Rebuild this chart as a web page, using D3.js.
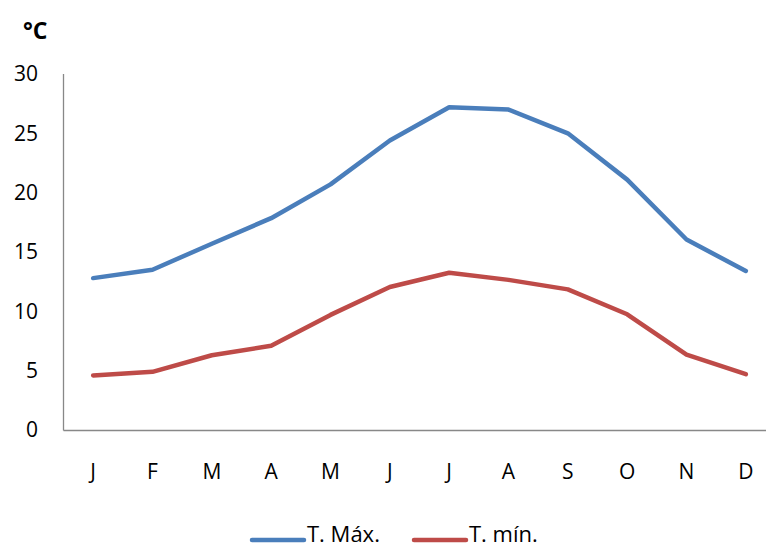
<!DOCTYPE html>
<html><head><meta charset="utf-8">
<script src="https://cdn.jsdelivr.net/npm/d3@7"></script>
<style>body{margin:0;background:#fff}svg{display:block}text{font-family:"Open Sans","Noto Sans",sans-serif;fill:#000}</style>
</head><body>
<svg id="c" width="766" height="549"></svg>
<script>
const months = ["J","F","M","A","M","J","J","A","S","O","N","D"];
const tMax = [12.8, 13.5, 15.7, 17.85, 20.7, 24.4, 27.2, 27.0, 25.0, 21.1, 16.05, 13.4];
const tMin = [4.6, 4.9, 6.3, 7.1, 9.7, 12.05, 13.25, 12.65, 11.85, 9.75, 6.35, 4.7];
const yTicks = [0,5,10,15,20,25,30];
const seriesNames = ["T. Máx.","T. mín."];
const colors = ["#4a7ebb","#be4b48"];

const svg = d3.select("#c");
const x0 = 63.5, x1 = 775.5, yTop = 74, yBot = 430;
const x = d3.scalePoint().domain(d3.range(12)).range([x0, x1]).padding(0.5);
const y = d3.scaleLinear().domain([0,30]).range([yBot, yTop]);

// axes
svg.append("line").attr("x1",x0).attr("x2",x0).attr("y1",yTop).attr("y2",yBot+0.5).attr("stroke","#888").attr("stroke-width",1.3);
svg.append("line").attr("x1",x0).attr("x2",766).attr("y1",yBot+0.5).attr("y2",yBot+0.5).attr("stroke","#888").attr("stroke-width",1.3);

svg.selectAll("text.yt").data(yTicks).enter().append("text")
  .attr("x",38).attr("y",d=>y(d)).attr("dy","0.35em").attr("text-anchor","end")
  .style("font-size","21px").text(d=>d);

svg.selectAll("text.xt").data(months).enter().append("text")
  .attr("x",(d,i)=>x(i)).attr("y",479).attr("text-anchor","middle")
  .style("font-size","21px").text(d=>d);

svg.append("text").attr("x",23).attr("y",39).style("font-size","23px").style("font-weight","bold").text("°C");

const line = d3.line().x((d,i)=>x(i)).y(d=>y(d));
[tMax,tMin].forEach((s,k)=>{
  svg.append("path").datum(s).attr("d",line).attr("fill","none")
    .attr("stroke",colors[k]).attr("stroke-width",4.5)
    .attr("stroke-linecap","round").attr("stroke-linejoin","round");
});

// legend
const lx = [252, 414];
seriesNames.forEach((n,k)=>{
  svg.append("line").attr("x1",lx[k]).attr("x2",lx[k]+52).attr("y1",540).attr("y2",540)
    .attr("stroke",colors[k]).attr("stroke-width",4.5).attr("stroke-linecap","round");
  svg.append("text").attr("x",lx[k]+55).attr("y",542).style("font-size","22px").text(n);
});
</script>
</body></html>
